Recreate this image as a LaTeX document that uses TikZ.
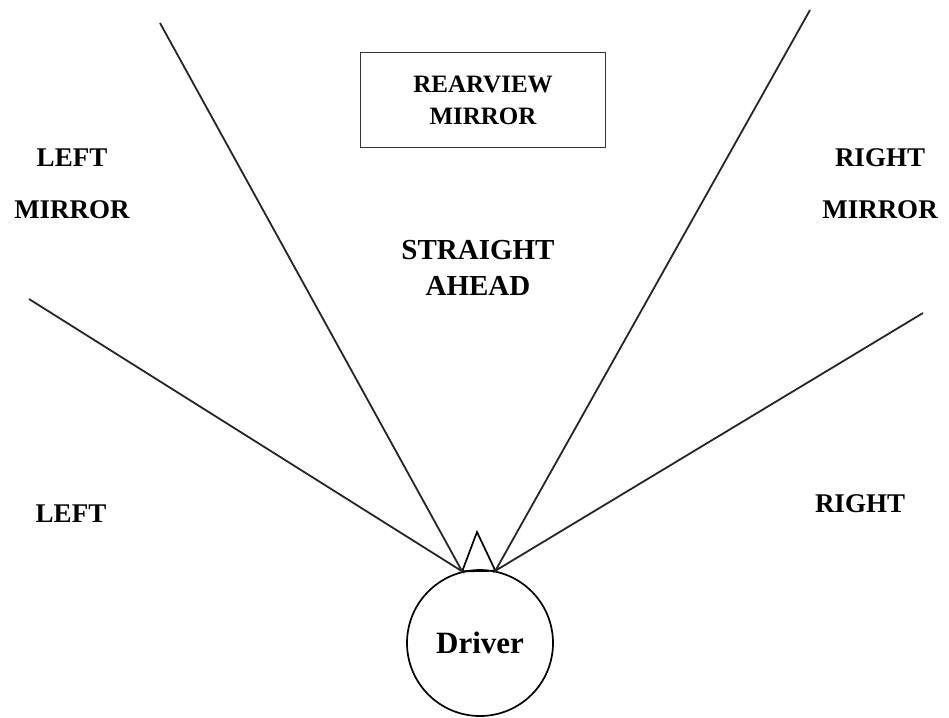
\documentclass[tikz,border=0pt]{standalone}
\usepackage{fontspec}
\setmainfont{Liberation Serif}
\begin{document}
\begin{tikzpicture}[x=1pt,y=-1pt,
    label/.style={font=\bfseries\fontsize{27}{30}\selectfont, align=center, inner sep=0pt},
    sight/.style={line width=1.8pt, black!85}]
    \useasboundingbox (0,0) rectangle (949,717);

    % Driver and nose
    \node[draw, circle, line width=1.7pt, minimum size=146pt, inner sep=0pt,
          font=\bfseries\fontsize{31}{34}\selectfont] (driver) at (480,643) {Driver};
    \coordinate (nose) at (477,532);
    \draw[line width=1.7pt] (driver.104) -- (nose) -- (driver.78) -- cycle;

    % Far ends of the sight lines
    \coordinate (lu) at (160,23);
    \coordinate (ll) at (29,299);
    \coordinate (ru) at (810,10);
    \coordinate (rl) at (923,313);
    \draw[sight] (lu) -- (driver.104) -- (ll);
    \draw[sight] (ru) -- (driver.78) -- (rl);

    % Rearview mirror
    \node[draw, line width=1.6pt, black!80, text=black, minimum width=245pt, minimum height=95pt,
          font=\bfseries\fontsize{25}{32}\selectfont, align=center] (rear) at (483,100)
          {REARVIEW\\MIRROR};

    % Labels
    \node[label, font=\bfseries\fontsize{27}{52}\selectfont] (lmirror) at (72,184) {LEFT\\MIRROR};
    \node[label, font=\bfseries\fontsize{27}{52}\selectfont] (rmirror) at (880,184) {RIGHT\\MIRROR};
    \node[label, font=\bfseries\fontsize{29}{36}\selectfont] (ahead) at (478,268) {STRAIGHT\\AHEAD};
    \node[label] (left) at (71,514) {LEFT};
    \node[label] (right) at (860,504) {RIGHT};
\end{tikzpicture}
\end{document}
